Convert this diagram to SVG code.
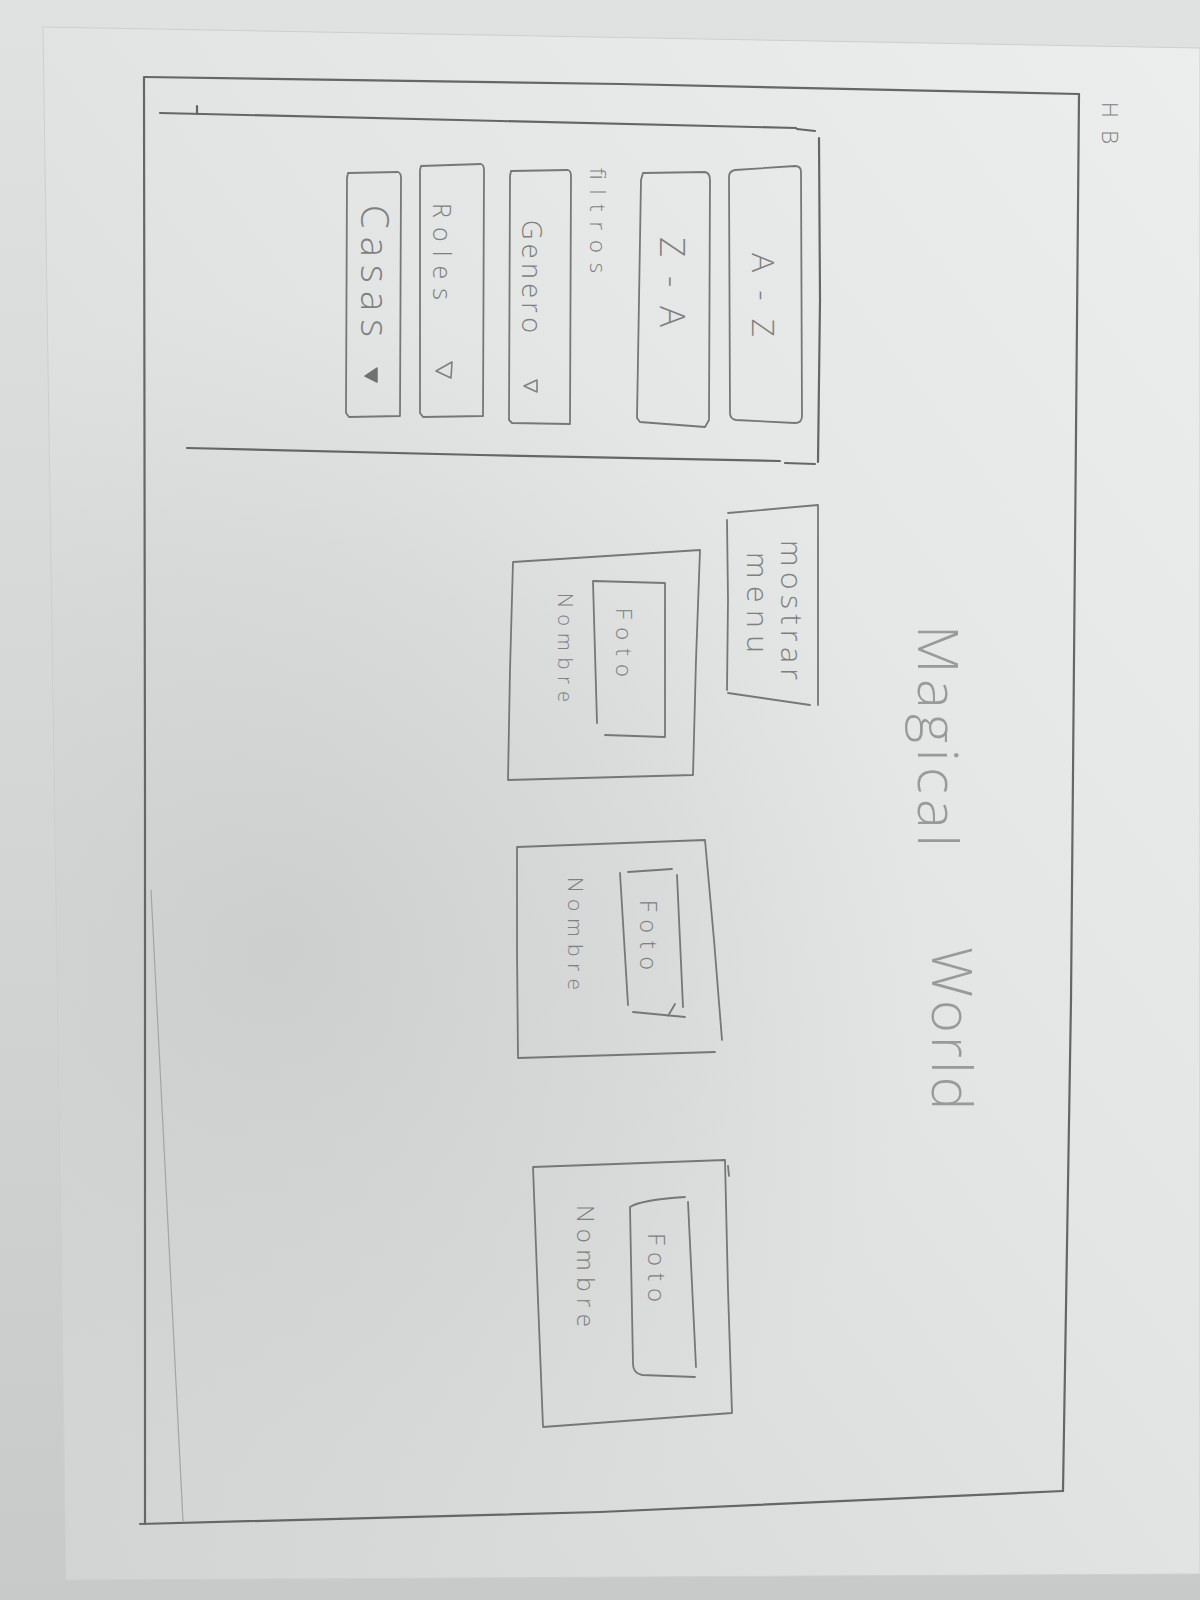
<svg xmlns="http://www.w3.org/2000/svg" width="1200" height="1600" viewBox="0 0 1200 1600">
  <defs>
    <linearGradient id="paperTone" x1="1" y1="0" x2="0" y2="1">
      <stop offset="0" stop-color="#eceeed"/>
      <stop offset="0.45" stop-color="#e3e5e4"/>
      <stop offset="1" stop-color="#d2d4d3"/>
    </linearGradient>
    <radialGradient id="shadow" cx="280" cy="950" r="650" gradientUnits="userSpaceOnUse">
      <stop offset="0" stop-color="#c6c8c7" stop-opacity="0.7"/>
      <stop offset="0.6" stop-color="#cbcdcc" stop-opacity="0.35"/>
      <stop offset="1" stop-color="#d0d2d1" stop-opacity="0"/>
    </radialGradient>
    <linearGradient id="tableTone" x1="0" y1="0" x2="0" y2="1">
      <stop offset="0" stop-color="#e0e2e1"/>
      <stop offset="1" stop-color="#c8cac9"/>
    </linearGradient>
  </defs>
  <style>
    .frame { fill: none; stroke: #656766; stroke-width: 2.2; stroke-linecap: round; stroke-linejoin: round; }
    .faint { fill: none; stroke: #a3a5a4; stroke-width: 1.2; stroke-linecap: round; }
    .box { fill: none; stroke: #767877; stroke-width: 1.8; stroke-linecap: round; stroke-linejoin: round; }
    .lbl { font-family: "Open Sans", "Liberation Sans", sans-serif; font-weight: 300; fill: #7f8180; }
    .title { font-family: "Open Sans", "Liberation Sans", sans-serif; font-weight: 300; fill: #999b9a; }
    .tri { fill: none; stroke: #7f8180; stroke-width: 1.6; stroke-linejoin: round; }
  </style>

  <!-- table surface and sheet of paper -->
  <rect x="0" y="0" width="1200" height="1600" fill="url(#tableTone)"/>
  <path d="M43,27 L1200,48 L1200,1574 L66,1580 Z" fill="url(#paperTone)" stroke="#cdcfce" stroke-width="1"/>
  <path d="M43,27 L1200,48 L1200,1574 L66,1580 Z" fill="url(#shadow)"/>

  <!-- page frame -->
  <g id="page-frame">
    <path class="frame" d="M145,77 L620,84 L1079,94"/>
    <path class="frame" d="M1079,94 L1071,1000 L1063,1491"/>
    <path class="frame" d="M144,77 L145,800 L145,1524"/>
    <path class="frame" d="M140,1524 L600,1512 L1063,1491"/>
    <path class="faint" d="M151,890 L183,1521"/>
  </g>

  <!-- side menu panel -->
  <g id="side-menu">
    <path class="frame" d="M160,113 L500,121 L796,128"/>
    <path class="frame" d="M797,129 L815,131"/>
    <path class="frame" d="M197,106 L197,114"/>
    <path class="frame" d="M819,138 L820,300 L818,462"/>
    <path class="frame" d="M187,448 L480,455 L780,461"/>
    <path class="frame" d="M785,463 L815,464"/>
  </g>

  <g id="btn-az">
    <path class="box" d="M735,170 L795,166 Q801,166 801,172 L802,416 Q802,423 795,423 L736,420 Q730,419 730,413 L729,177 Q729,171 735,170 Z"/>
    <text class="lbl" font-size="32" textLength="84" lengthAdjust="spacing" transform="translate(752,253) rotate(90)">A-Z</text>
  </g>

  <g id="btn-za">
    <path class="box" d="M643,173 L705,172 Q710,173 710,180 L709,420 L705,427 L640,422 L637,418 L639,300 L641,180 Z"/>
    <text class="lbl" font-size="35" textLength="90" lengthAdjust="spacing" transform="translate(660,237) rotate(90)">Z-A</text>
  </g>

  <g id="label-filtros">
    <text class="lbl" font-size="22" textLength="105" lengthAdjust="spacing" transform="translate(590,168) rotate(90)">filtros</text>
  </g>

  <g id="btn-genero">
    <path class="box" d="M511,171 L568,170 Q571,171 571,176 L570,424 L512,423 L509,420 L510,176 Z"/>
    <text class="lbl" font-size="27" textLength="113" lengthAdjust="spacing" transform="translate(522,220) rotate(90)">Genero</text>
    <path class="tri" d="M537,380 L537,392 L524,386 Z"/>
  </g>

  <g id="btn-roles">
    <path class="box" d="M421,166 L481,164 Q484,165 484,170 L483,416 L423,417 L420,413 L420,170 Z"/>
    <text class="lbl" font-size="25" textLength="97" lengthAdjust="spacing" transform="translate(433,203) rotate(90)">Roles</text>
    <path class="tri" d="M452,362 L451,378 L436,371 Z"/>
  </g>

  <g id="btn-casas">
    <path class="box" d="M348,173 L398,172 Q401,173 401,178 L400,416 L349,417 L346,413 L347,178 Z"/>
    <text class="lbl" font-size="38" textLength="132" lengthAdjust="spacing" transform="translate(361,205) rotate(90)">Casas</text>
    <path d="M377,368 L377,382 L365,376 Z" fill="#6f7170" stroke="#6f7170" stroke-width="1.5" stroke-linejoin="round"/>
  </g>

  <!-- header button -->
  <g id="btn-mostrar-menu">
    <path class="box" d="M728,513 L818,505 L818,600 L818,705 M810,705 L728,693 M727,690 L728,600 L727,520"/>
    <text class="lbl" font-size="30" textLength="140" lengthAdjust="spacing" transform="translate(781,540) rotate(90)">mostrar</text>
    <text class="lbl" font-size="30" textLength="101" lengthAdjust="spacing" transform="translate(747,552) rotate(90)">menu</text>
  </g>

  <!-- title -->
  <g id="title">
    <text class="title" font-size="56" textLength="222" lengthAdjust="spacing" transform="translate(918,625) rotate(90)">Magical</text>
    <text class="title" font-size="56" textLength="163" lengthAdjust="spacing" transform="translate(932,947) rotate(90)">World</text>
  </g>

  <!-- character cards -->
  <g id="card-1">
    <path class="box" d="M513,562 L700,550 L696,660 L693,775 L508,780 L510,670 Z"/>
    <path class="box" d="M593,581 L665,583 L665,737 M664,737 L605,735 M597,723 L593,582"/>
    <text class="lbl" font-size="22" textLength="69" lengthAdjust="spacing" transform="translate(616,608) rotate(90)">Foto</text>
    <text class="lbl" font-size="20" textLength="109" lengthAdjust="spacing" transform="translate(558,593) rotate(90)">Nombre</text>
  </g>

  <g id="card-2">
    <path class="box" d="M517,847 L705,840 L714,940 L722,1040 M715,1052 L518,1058 L517,950 L517,847"/>
    <path class="box" d="M628,872 L672,869 M677,875 L683,1007 M685,1017 L633,1012 M628,1005 L620,873 M675,1004 L668,1016"/>
    <text class="lbl" font-size="23" textLength="70" lengthAdjust="spacing" transform="translate(640,900) rotate(90)">Foto</text>
    <text class="lbl" font-size="21" textLength="113" lengthAdjust="spacing" transform="translate(568,877) rotate(90)">Nombre</text>
  </g>

  <g id="card-3">
    <path class="box" d="M533,1167 L725,1160 L728,1290 L732,1413 L543,1427 L538,1300 Z M728,1166 L729,1176"/>
    <path class="box" d="M630,1207 Q640,1200 685,1197 M688,1202 L696,1367 M695,1377 L642,1375 Q633,1373 633,1364 L630,1207"/>
    <text class="lbl" font-size="24" textLength="69" lengthAdjust="spacing" transform="translate(648,1233) rotate(90)">Foto</text>
    <text class="lbl" font-size="24" textLength="122" lengthAdjust="spacing" transform="translate(577,1205) rotate(90)">Nombre</text>
  </g>

  <!-- pencil grade note -->
  <g id="note-hb">
    <text class="lbl" font-size="22" textLength="42" lengthAdjust="spacing" transform="translate(1102,102) rotate(90)">HB</text>
  </g>
</svg>
